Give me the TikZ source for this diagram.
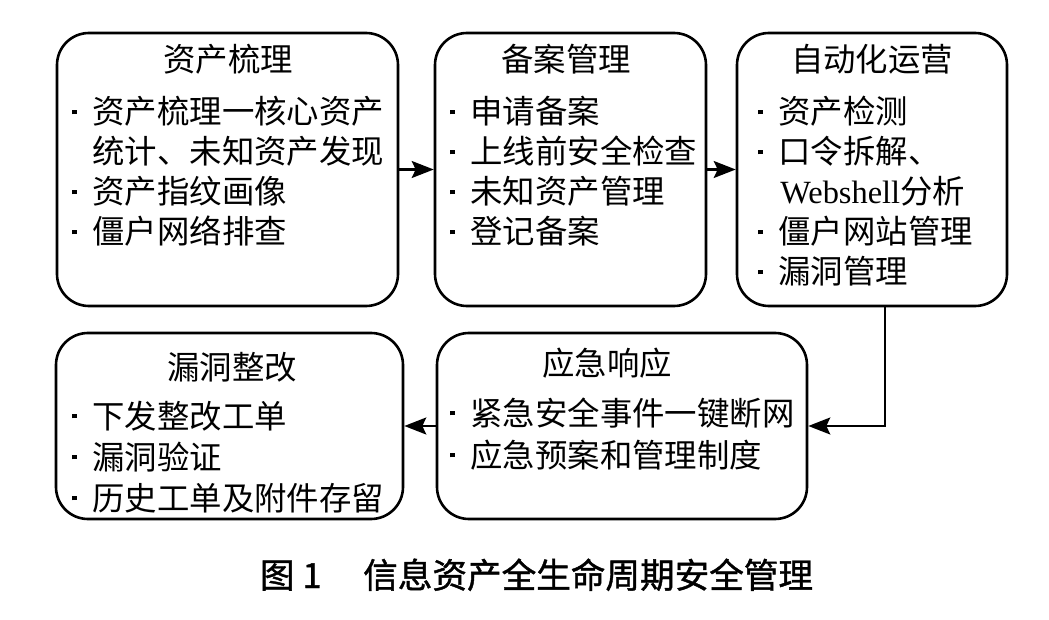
\documentclass[tikz,border=0pt]{standalone}
\usepackage{fontspec}
\setmainfont{Liberation Serif}
\newfontfamily\cjk{Noto Sans CJK SC}
\newfontfamily\capfont[FakeBold=1.2]{Noto Sans CJK SC}
\usetikzlibrary{arrows.meta,fit}

\tikzset{
  stage/.style={draw, line width=1.3pt, rounded corners=16pt, inner sep=0pt},
  flow/.style={-{Stealth[length=11pt,width=8.5pt,inset=2pt]}, line width=1.1pt},
  title/.style={anchor=base, inner sep=0pt, font=\cjk\fontsize{16.2}{20}\selectfont},
  entry/.style={anchor=base west, inner sep=0pt, font=\cjk\fontsize{16.2}{20}\selectfont},
  caption/.style={anchor=base, inner sep=0pt, font=\capfont\fontsize{17.3}{20}\selectfont},
}
\newcommand{\sqdot}{\makebox[10pt][l]{\rule[4.8pt]{2.4pt}{2.4pt}}}

\begin{document}
\begin{tikzpicture}[x=0.5pt, y=-0.5pt]
    \useasboundingbox (0,0) rectangle (1049,620);

    % Rounded boxes of the five stages
    \node[stage, fit={(57,33) (398,306)}] (assets) {};
    \node[stage, fit={(435,33) (706,306)}] (filing) {};
    \node[stage, fit={(737,33) (1007,306)}] (ops) {};
    \node[stage, fit={(437,333) (807,519)}] (response) {};
    \node[stage, fit={(56,333) (403,519)}] (fix) {};

    % Titles
    \node[title] (assets-t) at (228,72) {资产梳理};
    \node[title] (filing-t) at (566,72) {备案管理};
    \node[title] (ops-t) at (872,72) {自动化运营};
    \node[title] (fix-t) at (232,379) {漏洞整改};
    \node[title] (response-t) at (607,375) {应急响应};

    % Items of the first box
    \node[entry] (assets-1) at (72,124) {\sqdot 资产梳理一核心资产};
    \node[entry] (assets-1b) at (92,164) {统计、未知资产发现};
    \node[entry] (assets-2) at (72,204) {\sqdot 资产指纹画像};
    \node[entry] (assets-3) at (72,244) {\sqdot 僵户网络排查};

    % Items of the second box
    \node[entry] (filing-1) at (450,124) {\sqdot 申请备案};
    \node[entry] (filing-2) at (450,164) {\sqdot 上线前安全检查};
    \node[entry] (filing-3) at (450,204) {\sqdot 未知资产管理};
    \node[entry] (filing-4) at (450,244) {\sqdot 登记备案};

    % Items of the third box
    \node[entry] (ops-1) at (758,124) {\sqdot 资产检测};
    \node[entry] (ops-2) at (758,164) {\sqdot 口令拆解、};
    \node[entry] (ops-2b) at (780,204) {{\rmfamily Webshell}分析};
    \node[entry] (ops-3) at (758,244) {\sqdot 僵户网站管理};
    \node[entry] (ops-4) at (758,284) {\sqdot 漏洞管理};

    % Items of the lower boxes
    \node[entry] (fix-1) at (72,428) {\sqdot 下发整改工单};
    \node[entry] (fix-2) at (72,469) {\sqdot 漏洞验证};
    \node[entry] (fix-3) at (72,510) {\sqdot 历史工单及附件存留};
    \node[entry] (response-1) at (450,425) {\sqdot 紧急安全事件一键断网};
    \node[entry] (response-2) at (450,467) {\sqdot 应急预案和管理制度};

    % Arrows between the stages
    \draw[flow] (assets) -- (filing);
    \draw[flow] (filing) -- (ops);
    \draw[flow] ([xshift=6.5pt]ops.south) |- (response);
    \draw[flow] (response) -- (fix);

    % Caption
    \node[caption] (cap) at (536.5,588) {图\hspace{4pt}1\hspace{1.2em}信息资产全生命周期安全管理};
\end{tikzpicture}
\end{document}
